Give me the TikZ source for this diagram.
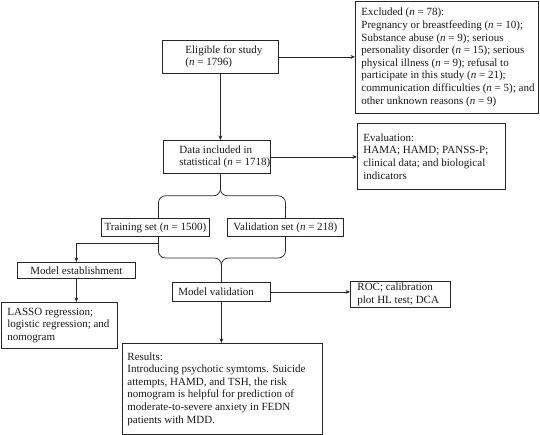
\documentclass[tikz,border=0pt]{standalone}
\usepackage{fontspec}
\setmainfont{Liberation Serif}
\usetikzlibrary{arrows.meta,calc}
\newcommand\tx[3]{\hspace*{#1pt}\parbox{#2pt}{\raggedright #3}}
\newcommand\nvar{\textit{n}}
\begin{document}
\begin{tikzpicture}[x=1pt,y=-1pt,
  bx/.style={draw=black!85, line width=0.85pt, inner sep=0pt, anchor=north west,
    font=\fontsize{11}{12.6}\selectfont, text=black!90},
  ar/.style={draw=black!85, line width=0.75pt, -{Stealth[length=4.5pt,width=3.8pt]}},
  brace/.style={draw=black!85, line width=0.75pt, rounded corners=7pt}]
\useasboundingbox (0,0) rectangle (540,435);
\node[bx, minimum width=116, minimum height=33] (elig) at (162,40)
  {\tx{23}{93}{Eligible for study\\(\nvar{} = 1796)}};
\node[bx, minimum width=183, minimum height=112] (excl) at (355,1)
  {\tx{6}{177}{Excluded (\nvar{} = 78):\\Pregnancy or breastfeeding (\nvar{} = 10);\\Substance abuse (\nvar{} = 9); serious\\personality disorder (\nvar{} = 15); serious\\physical illness (\nvar{} = 9); refusal to\\participate in this study (\nvar{} = 21);\\communication difficulties (\nvar{} = 5); and\\other unknown reasons (\nvar{} = 9)}};
\node[bx, minimum width=107, minimum height=33] (data) at (163,140)
  {\tx{16}{91}{Data included in\\statistical (\nvar{} = 1718)}};
\node[bx, minimum width=148, minimum height=66] (eval) at (357,123)
  {\tx{6}{142}{Evaluation:\\HAMA; HAMD; PANSS-P;\\clinical data; and biological\\indicators}};
\node[bx, minimum width=108, minimum height=18] (train) at (101,218)
  {Training set (\nvar{} = 1500)};
\node[bx, minimum width=116, minimum height=18] (valid) at (227,218)
  {Validation set (\nvar{} = 218)};
\node[bx, minimum width=118, minimum height=16] (modest) at (17,262)
  {Model establishment};
\node[bx, minimum width=116, minimum height=46] (lasso) at (1,302)
  {\tx{6}{110}{LASSO regression;\\logistic regression; and\\nomogram}};
\node[bx, minimum width=98, minimum height=19] (mv) at (172,282)
  {\tx{6}{92}{Model validation}};
\node[bx, minimum width=100, minimum height=26] (roc) at (350,281)
  {\tx{7}{93}{ROC; calibration\\plot HL test; DCA}};
\node[bx, minimum width=200, minimum height=91] (res) at (122,343)
  {\tx{5}{195}{Results:\\Introducing psychotic symtoms. Suicide\\attempts, HAMD, and TSH, the risk\\nomogram is helpful for prediction of\\moderate-to-severe anxiety in FEDN\\patients with MDD.}};
% connectors
\draw[ar] (elig.east) -- (elig.east -| excl.west);
\draw[ar] (elig.south) -- (elig.south |- data.north);
\draw[ar] (data.east) -- (data.east -| eval.west);
\draw[brace] (data.south -| elig.south) -- ++(0,22) -| ($(train.north)+(3,0)$);
\draw[brace] (data.south -| elig.south) -- ++(0,22) -| (valid.north);
\draw[brace] ($(train.south)+(3,0)$) |- ($(mv.north)+(0,-24)$) -- (mv.north);
\draw[brace] (valid.south) |- ($(mv.north)+(0,-24)$) -- (mv.north);
\draw[ar] ($(train.south)+(3,0)$) -- ++(0,7) -| (modest.north);
\draw[ar] (modest.south) -- (modest.south |- lasso.north);
\draw[ar] (mv.east) -- (mv.east -| roc.west);
\draw[ar] (mv.south) -- (mv.south |- res.north);
\end{tikzpicture}
\end{document}
